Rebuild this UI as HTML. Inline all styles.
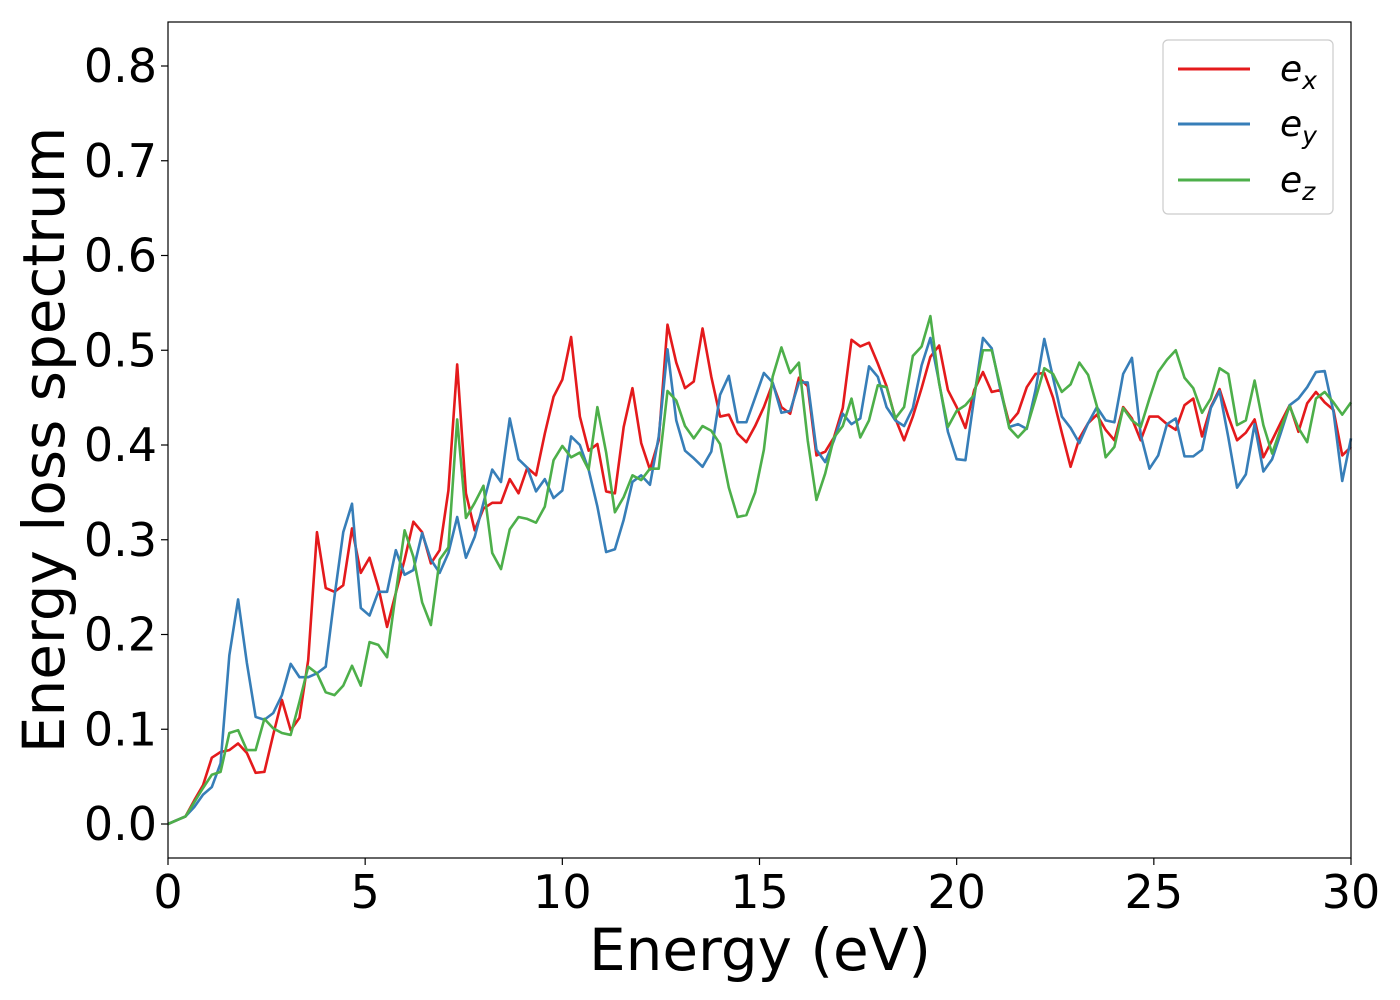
<!DOCTYPE html>
<html><head><meta charset="utf-8"><style>
html,body{margin:0;padding:0;background:#fff;}
svg{display:block;font-family:"DejaVu Sans","Liberation Sans",sans-serif;}
</style></head><body>
<svg id="chart" width="1400" height="1000" viewBox="0 0 1400 1000" xmlns="http://www.w3.org/2000/svg">
<rect x="0" y="0" width="1400" height="1000" fill="#fff"/>
<g id="series"></g>
<rect x="168" y="22" width="1183" height="836" fill="none" stroke="#000" stroke-width="1.2"/>
<g id="yticks"></g>
<g id="xticks"></g>
<text x="760" y="970" font-size="58" text-anchor="middle">Energy (eV)</text>
<text transform="translate(64,440) rotate(-90)" font-size="58" text-anchor="middle">Energy loss spectrum</text>
<g>
<rect x="1163" y="40" width="170" height="174" rx="5" fill="#fff" stroke="#ccc" stroke-width="1.2"/>
<g><line x1="1178" y1="69" x2="1250" y2="69" stroke="#e41a1c" stroke-width="3"/><text x="1280" y="81" font-size="36" font-style="italic">e<tspan font-size="25" dy="8">x</tspan></text></g>
<g><line x1="1178" y1="124" x2="1250" y2="124" stroke="#377eb8" stroke-width="3"/><text x="1280" y="136" font-size="36" font-style="italic">e<tspan font-size="25" dy="8">y</tspan></text></g>
<g><line x1="1178" y1="180" x2="1250" y2="180" stroke="#4daf4a" stroke-width="3"/><text x="1280" y="192" font-size="36" font-style="italic">e<tspan font-size="25" dy="8">z</tspan></text></g>
</g>
</svg>
<script>
const xTicks = [0,5,10,15,20,25,30];
const yTicks = [0.0,0.1,0.2,0.3,0.4,0.5,0.6,0.7,0.8];
const yTickLabels = ["0.0","0.1","0.2","0.3","0.4","0.5","0.6","0.7","0.8"];
const energyStep = 30/135;
const exValues = [0,0.004,0.008,0.025,0.041,0.07,0.076,0.078,0.085,0.075,0.054,0.055,0.094,0.131,0.099,0.112,0.173,0.308,0.249,0.245,0.252,0.312,0.265,0.281,0.250,0.208,0.244,0.279,0.319,0.308,0.275,0.289,0.352,0.485,
0.349,0.31,0.333,0.339,0.339,0.364,0.349,0.376,0.368,0.412,0.451,0.469,0.514,0.43,0.394,0.401,0.351,0.349,0.419,0.46,0.402,0.374,0.405,0.527,0.487,0.46,0.467,0.523,0.472,0.43,0.432,0.412,0.403,0.42,
0.44,0.465,0.44,0.433,0.471,0.462,0.389,0.393,0.408,0.439,0.511,0.504,0.508,0.486,0.462,0.428,0.405,0.43,0.46,0.493,0.505,0.458,0.44,0.418,0.458,0.477,0.456,0.458,0.423,0.434,0.461,0.475,0.476,
0.45,0.413,0.377,0.407,0.423,0.432,0.416,0.405,0.44,0.428,0.405,0.43,0.43,0.422,0.416,0.442,0.449,0.409,0.44,0.459,0.43,0.405,0.413,0.427,0.387,0.405,0.424,0.442,0.414,0.444,0.456,0.445,0.437,0.389,0.398];
const eyValues = [0,0.004,0.008,0.018,0.031,0.039,0.064,0.178,0.237,0.17,0.113,0.11,0.117,0.136,0.169,0.155,0.155,0.159,0.166,0.24,0.308,0.338,0.228,0.22,0.245,0.245,0.289,0.263,0.268,0.307,0.279,0.265,0.286,0.324,
0.281,0.303,0.339,0.374,0.361,0.428,0.385,0.376,0.351,0.364,0.344,0.352,0.409,0.4,0.374,0.335,0.287,0.29,0.321,0.361,0.368,0.358,0.409,0.501,0.426,0.394,0.386,0.377,0.393,0.453,0.473,0.424,0.424,0.45,
0.476,0.466,0.434,0.436,0.466,0.466,0.395,0.382,0.405,0.433,0.422,0.428,0.483,0.472,0.44,0.426,0.42,0.439,0.484,0.513,0.466,0.414,0.385,0.384,0.45,0.513,0.502,0.458,0.419,0.422,0.417,0.458,0.512,
0.471,0.43,0.418,0.402,0.423,0.44,0.426,0.424,0.475,0.492,0.411,0.375,0.389,0.422,0.428,0.388,0.388,0.395,0.439,0.457,0.408,0.355,0.369,0.422,0.372,0.385,0.413,0.442,0.449,0.461,0.477,0.478,0.435,0.362,0.407];
const ezValues = [0,0.004,0.008,0.023,0.038,0.052,0.055,0.096,0.099,0.078,0.078,0.111,0.101,0.096,0.094,0.129,0.166,0.159,0.139,0.136,0.146,0.167,0.146,0.192,0.189,0.176,0.244,0.31,0.282,0.234,0.21,0.279,0.292,0.427,
0.323,0.339,0.357,0.286,0.269,0.311,0.324,0.322,0.318,0.335,0.384,0.399,0.387,0.392,0.374,0.44,0.392,0.329,0.345,0.368,0.363,0.375,0.375,0.457,0.447,0.42,0.407,0.42,0.415,0.401,0.355,0.324,0.326,0.35,
0.395,0.472,0.503,0.476,0.487,0.405,0.342,0.37,0.408,0.42,0.449,0.408,0.426,0.463,0.461,0.428,0.44,0.494,0.504,0.536,0.465,0.419,0.436,0.442,0.453,0.5,0.5,0.461,0.418,0.408,0.418,0.449,0.481,
0.475,0.456,0.464,0.487,0.474,0.441,0.387,0.398,0.439,0.426,0.419,0.449,0.477,0.49,0.5,0.471,0.46,0.434,0.449,0.481,0.475,0.421,0.426,0.468,0.421,0.391,0.418,0.441,0.418,0.403,0.449,0.456,0.445,0.432,0.445];

const NS = "http://www.w3.org/2000/svg";
const X0 = 168, X1 = 1351, XMIN = 0, XMAX = 30;
const Y0 = 824, YPER = 947.5;
function xScale(v){ return X0 + (v - XMIN) / (XMAX - XMIN) * (X1 - X0); }
function yScale(v){ return Y0 - v * YPER; }

const seriesG = document.getElementById('series');
const seriesDefs = [["ex", exValues, "#e41a1c"], ["ey", eyValues, "#377eb8"], ["ez", ezValues, "#4daf4a"]];
seriesDefs.forEach(function(s){
  const pts = s[1].map(function(v, i){ return xScale(i * energyStep).toFixed(2) + "," + yScale(v).toFixed(2); }).join(" ");
  const pl = document.createElementNS(NS, "polyline");
  pl.setAttribute("points", pts);
  pl.setAttribute("fill", "none");
  pl.setAttribute("stroke", s[2]);
  pl.setAttribute("stroke-width", "2.6");
  pl.setAttribute("stroke-linejoin", "round");
  
  
  seriesG.appendChild(pl);
});

const yG = document.getElementById('yticks');
yTicks.forEach(function(v, i){
  const y = yScale(v);
  const ln = document.createElementNS(NS, "line");
  ln.setAttribute("x1", X0 - 7); ln.setAttribute("x2", X0);
  ln.setAttribute("y1", y); ln.setAttribute("y2", y);
  ln.setAttribute("stroke", "#000"); ln.setAttribute("stroke-width", "1.2");
  
  
  yG.appendChild(ln);
  const t = document.createElementNS(NS, "text");
  t.setAttribute("x", X0 - 11); t.setAttribute("y", y + 16);
  t.setAttribute("font-size", "46"); t.setAttribute("text-anchor", "end");
  t.textContent = yTickLabels[i];
  
  
  yG.appendChild(t);
});

const xG = document.getElementById('xticks');
xTicks.forEach(function(v){
  const x = xScale(v);
  const ln = document.createElementNS(NS, "line");
  ln.setAttribute("x1", x); ln.setAttribute("x2", x);
  ln.setAttribute("y1", 858); ln.setAttribute("y2", 865);
  ln.setAttribute("stroke", "#000"); ln.setAttribute("stroke-width", "1.2");
  
  
  xG.appendChild(ln);
  const t = document.createElementNS(NS, "text");
  t.setAttribute("x", x); t.setAttribute("y", 908);
  t.setAttribute("font-size", "46"); t.setAttribute("text-anchor", "middle");
  t.textContent = String(v);
  
  
  xG.appendChild(t);
});
</script>
</body></html>
